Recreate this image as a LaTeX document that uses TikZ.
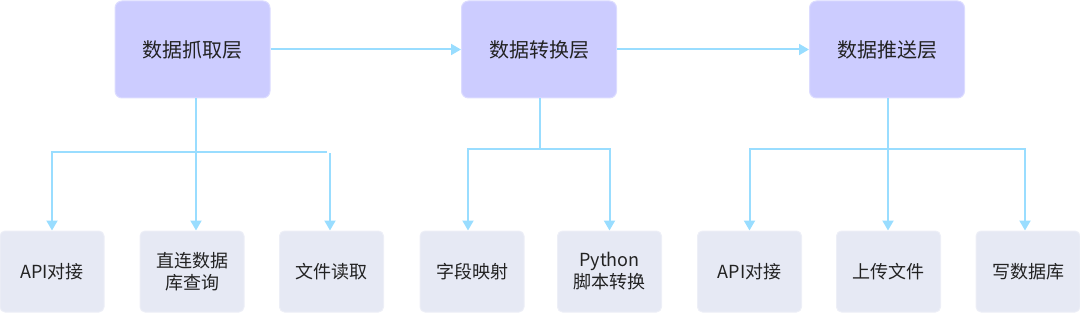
\documentclass[tikz,border=0pt]{standalone}
\usepackage{fontspec}
\setmainfont{Noto Sans CJK SC}
\usetikzlibrary{arrows.meta}
\definecolor{topfill}{HTML}{CCCCFF}
\definecolor{topedge}{HTML}{DCDCFF}
\definecolor{botfill}{HTML}{E6E9F4}
\definecolor{botedge}{HTML}{EDEFF7}
\definecolor{linec}{HTML}{99DDFF}
\definecolor{txt}{HTML}{222222}
\tikzset{
  layer/.style={rectangle, rounded corners=7pt, fill=topfill, draw=topedge, line width=1pt,
    minimum width=155pt, minimum height=97pt, inner sep=0pt, text=txt,
    font=\fontsize{20}{24}\selectfont},
  leaf/.style={rectangle, rounded corners=5pt, fill=botfill, draw=botedge, line width=1pt,
    minimum width=104pt, minimum height=81pt, inner sep=0pt, text=txt, align=center,
    font=\fontsize{18}{22}\selectfont},
  wire/.style={draw=linec, line width=2pt},
  conn/.style={wire, -{Triangle[length=10pt,width=11pt]}}
}
\begin{document}
\begin{tikzpicture}[x=1pt,y=-1pt]
\useasboundingbox (0,0) rectangle (1080,313);
\node[layer] (t1) at (192.5,49.5) {数据抓取层};
\node[layer] (t2) at (539,49.5) {数据转换层};
\node[layer] (t3) at (887,49.5) {数据推送层};

\node[leaf] (b1) at (52,271.5) {API对接};
\node[leaf] (b2) at (192,271.5) {直连数据\\库查询};
\node[leaf] (b3) at (331.5,271.5) {文件读取};
\node[leaf] (b4) at (472,271.5) {字段映射};
\node[leaf] (b5) at (609.5,271.5) {Python\\脚本转换};
\node[leaf] (b6) at (749.5,271.5) {API对接};
\node[leaf] (b7) at (888.5,271.5) {上传文件};
\node[leaf] (b8) at (1028,271.5) {写数据库};

\draw[conn] (t1.east) -- (t2.west);
\draw[conn] (t2.east) -- (t3.west);

% group 1
\coordinate (j1) at (196,152);
\coordinate (e1) at (327,152);
\coordinate (k1) at (330,153);
\draw[wire] (t1.south -| j1) -- (j1);
\draw[wire] (j1) -- (e1);
\draw[conn] (j1) -| (b1.north);
\draw[conn] (j1) -- (j1 |- b2.north);
\draw[conn] (k1) -- (k1 |- b3.north);

% group 2
\coordinate (j2) at (540,149);
\draw[wire] (t2.south -| j2) -- (j2);
\draw[conn] (j2) -| ([xshift=-4pt]b4.north);
\draw[conn] (j2) -| (b5.north);

% group 3
\coordinate (j3) at (888,149);
\draw[wire] (t3.south -| j3) -- (j3);
\draw[conn] (j3) -| (b6.north);
\draw[conn] (j3) -- (j3 |- b7.north);
\draw[conn] (j3) -| ([xshift=-3pt]b8.north);
\end{tikzpicture}
\end{document}
